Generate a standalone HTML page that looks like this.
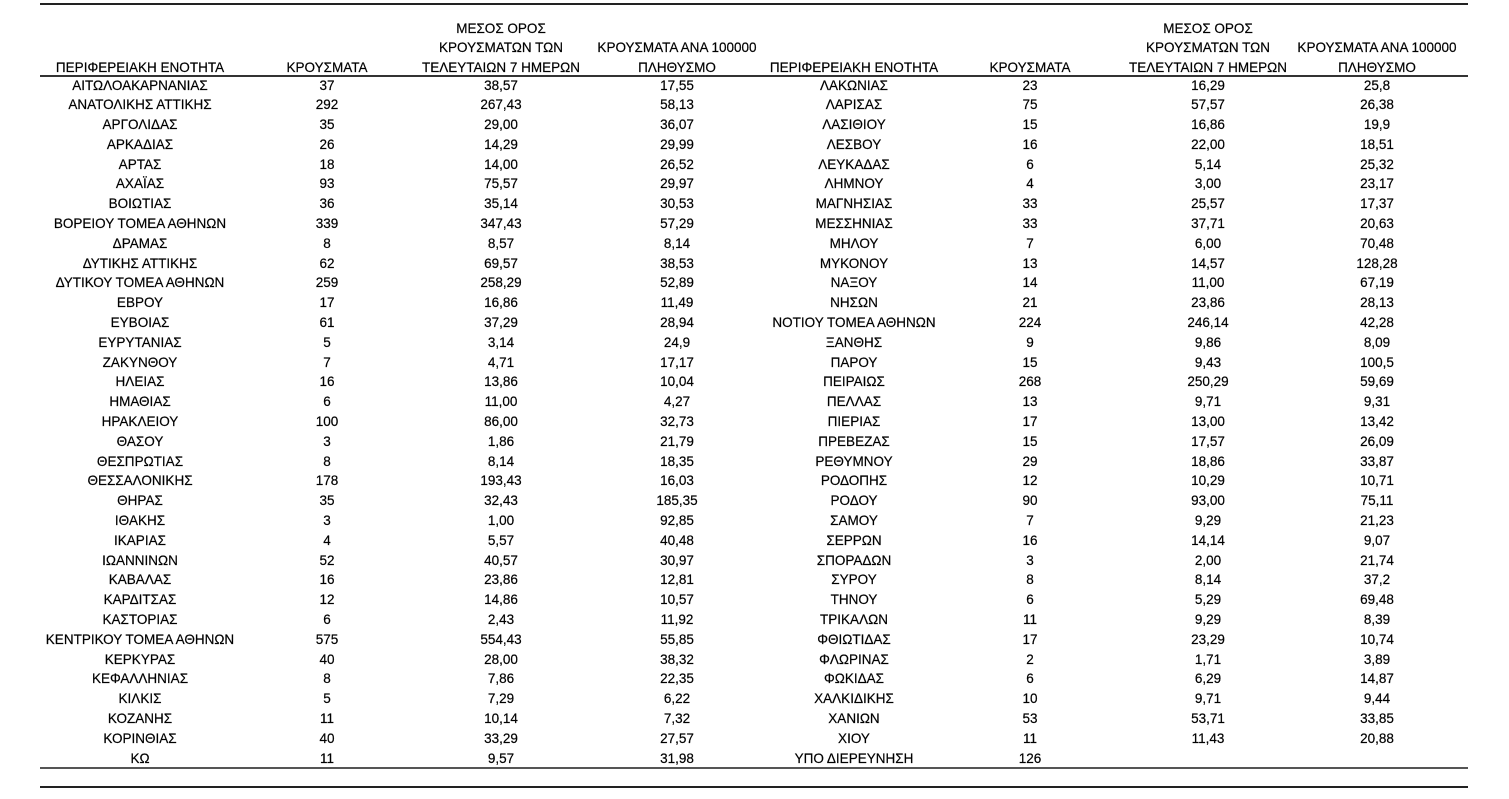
<!DOCTYPE html>
<html><head><meta charset="utf-8">
<style>
html,body{margin:0;padding:0;background:#fff;}
body{width:1509px;height:799px;position:relative;overflow:hidden;font-family:"Liberation Sans","Noto Sans CJK SC",sans-serif;font-size:14px;color:#000;-webkit-text-stroke:0.2px #000;}
.ln{position:absolute;left:40px;width:1428px;height:2px;}
.hr{position:absolute;left:0;width:1509px;height:20px;line-height:20px;}
.rows{position:absolute;top:75.5px;left:0;width:1509px;}
.r{position:relative;height:19.8px;line-height:19.8px;}
i{font-style:normal;position:absolute;top:0;text-align:center;white-space:nowrap;transform:scaleX(0.965);transform-origin:50% 50%;}
.a{left:40px;width:200px}
.b{left:277px;width:100px}
.c{left:416px;width:170px}
.d{left:592px;width:170px}
.e{left:754px;width:200px}
.f{left:980px;width:100px}
.g{left:1123px;width:170px}
.h{left:1292px;width:170px}
</style></head><body>
<div class="ln" style="top:3px;background:#222"></div>
<div class="ln" style="top:74.5px;background:#333"></div>
<div class="ln" style="top:766.5px;background:#555"></div>
<div class="ln" style="top:785.5px;background:#222"></div>

<div class="hr" style="top:17.5px"><i class="c">ΜΕΣΟΣ ΟΡΟΣ</i><i class="g">ΜΕΣΟΣ ΟΡΟΣ</i></div>
<div class="hr" style="top:37px"><i class="c">ΚΡΟΥΣΜΑΤΩΝ ΤΩΝ</i><i class="d">ΚΡΟΥΣΜΑΤΑ ΑΝΑ 100000</i><i class="g">ΚΡΟΥΣΜΑΤΩΝ ΤΩΝ</i><i class="h">ΚΡΟΥΣΜΑΤΑ ΑΝΑ 100000</i></div>
<div class="hr" style="top:56.5px"><i class="a">ΠΕΡΙΦΕΡΕΙΑΚΗ ΕΝΟΤΗΤΑ</i><i class="b">ΚΡΟΥΣΜΑΤΑ</i><i class="c">ΤΕΛΕΥΤΑΙΩΝ 7 ΗΜΕΡΩΝ</i><i class="d">ΠΛΗΘΥΣΜΟ</i><i class="e">ΠΕΡΙΦΕΡΕΙΑΚΗ ΕΝΟΤΗΤΑ</i><i class="f">ΚΡΟΥΣΜΑΤΑ</i><i class="g">ΤΕΛΕΥΤΑΙΩΝ 7 ΗΜΕΡΩΝ</i><i class="h">ΠΛΗΘΥΣΜΟ</i></div>

<div class="rows">
<div class="r"><i class="a">ΑΙΤΩΛΟΑΚΑΡΝΑΝΙΑΣ</i><i class="b">37</i><i class="c">38,57</i><i class="d">17,55</i><i class="e">ΛΑΚΩΝΙΑΣ</i><i class="f">23</i><i class="g">16,29</i><i class="h">25,8</i></div>
<div class="r"><i class="a">ΑΝΑΤΟΛΙΚΗΣ ΑΤΤΙΚΗΣ</i><i class="b">292</i><i class="c">267,43</i><i class="d">58,13</i><i class="e">ΛΑΡΙΣΑΣ</i><i class="f">75</i><i class="g">57,57</i><i class="h">26,38</i></div>
<div class="r"><i class="a">ΑΡΓΟΛΙΔΑΣ</i><i class="b">35</i><i class="c">29,00</i><i class="d">36,07</i><i class="e">ΛΑΣΙΘΙΟΥ</i><i class="f">15</i><i class="g">16,86</i><i class="h">19,9</i></div>
<div class="r"><i class="a">ΑΡΚΑΔΙΑΣ</i><i class="b">26</i><i class="c">14,29</i><i class="d">29,99</i><i class="e">ΛΕΣΒΟΥ</i><i class="f">16</i><i class="g">22,00</i><i class="h">18,51</i></div>
<div class="r"><i class="a">ΑΡΤΑΣ</i><i class="b">18</i><i class="c">14,00</i><i class="d">26,52</i><i class="e">ΛΕΥΚΑΔΑΣ</i><i class="f">6</i><i class="g">5,14</i><i class="h">25,32</i></div>
<div class="r"><i class="a">ΑΧΑΪΑΣ</i><i class="b">93</i><i class="c">75,57</i><i class="d">29,97</i><i class="e">ΛΗΜΝΟΥ</i><i class="f">4</i><i class="g">3,00</i><i class="h">23,17</i></div>
<div class="r"><i class="a">ΒΟΙΩΤΙΑΣ</i><i class="b">36</i><i class="c">35,14</i><i class="d">30,53</i><i class="e">ΜΑΓΝΗΣΙΑΣ</i><i class="f">33</i><i class="g">25,57</i><i class="h">17,37</i></div>
<div class="r"><i class="a">ΒΟΡΕΙΟΥ ΤΟΜΕΑ ΑΘΗΝΩΝ</i><i class="b">339</i><i class="c">347,43</i><i class="d">57,29</i><i class="e">ΜΕΣΣΗΝΙΑΣ</i><i class="f">33</i><i class="g">37,71</i><i class="h">20,63</i></div>
<div class="r"><i class="a">ΔΡΑΜΑΣ</i><i class="b">8</i><i class="c">8,57</i><i class="d">8,14</i><i class="e">ΜΗΛΟΥ</i><i class="f">7</i><i class="g">6,00</i><i class="h">70,48</i></div>
<div class="r"><i class="a">ΔΥΤΙΚΗΣ ΑΤΤΙΚΗΣ</i><i class="b">62</i><i class="c">69,57</i><i class="d">38,53</i><i class="e">ΜΥΚΟΝΟΥ</i><i class="f">13</i><i class="g">14,57</i><i class="h">128,28</i></div>
<div class="r"><i class="a">ΔΥΤΙΚΟΥ ΤΟΜΕΑ ΑΘΗΝΩΝ</i><i class="b">259</i><i class="c">258,29</i><i class="d">52,89</i><i class="e">ΝΑΞΟΥ</i><i class="f">14</i><i class="g">11,00</i><i class="h">67,19</i></div>
<div class="r"><i class="a">ΕΒΡΟΥ</i><i class="b">17</i><i class="c">16,86</i><i class="d">11,49</i><i class="e">ΝΗΣΩΝ</i><i class="f">21</i><i class="g">23,86</i><i class="h">28,13</i></div>
<div class="r"><i class="a">ΕΥΒΟΙΑΣ</i><i class="b">61</i><i class="c">37,29</i><i class="d">28,94</i><i class="e">ΝΟΤΙΟΥ ΤΟΜΕΑ ΑΘΗΝΩΝ</i><i class="f">224</i><i class="g">246,14</i><i class="h">42,28</i></div>
<div class="r"><i class="a">ΕΥΡΥΤΑΝΙΑΣ</i><i class="b">5</i><i class="c">3,14</i><i class="d">24,9</i><i class="e">ΞΑΝΘΗΣ</i><i class="f">9</i><i class="g">9,86</i><i class="h">8,09</i></div>
<div class="r"><i class="a">ΖΑΚΥΝΘΟΥ</i><i class="b">7</i><i class="c">4,71</i><i class="d">17,17</i><i class="e">ΠΑΡΟΥ</i><i class="f">15</i><i class="g">9,43</i><i class="h">100,5</i></div>
<div class="r"><i class="a">ΗΛΕΙΑΣ</i><i class="b">16</i><i class="c">13,86</i><i class="d">10,04</i><i class="e">ΠΕΙΡΑΙΩΣ</i><i class="f">268</i><i class="g">250,29</i><i class="h">59,69</i></div>
<div class="r"><i class="a">ΗΜΑΘΙΑΣ</i><i class="b">6</i><i class="c">11,00</i><i class="d">4,27</i><i class="e">ΠΕΛΛΑΣ</i><i class="f">13</i><i class="g">9,71</i><i class="h">9,31</i></div>
<div class="r"><i class="a">ΗΡΑΚΛΕΙΟΥ</i><i class="b">100</i><i class="c">86,00</i><i class="d">32,73</i><i class="e">ΠΙΕΡΙΑΣ</i><i class="f">17</i><i class="g">13,00</i><i class="h">13,42</i></div>
<div class="r"><i class="a">ΘΑΣΟΥ</i><i class="b">3</i><i class="c">1,86</i><i class="d">21,79</i><i class="e">ΠΡΕΒΕΖΑΣ</i><i class="f">15</i><i class="g">17,57</i><i class="h">26,09</i></div>
<div class="r"><i class="a">ΘΕΣΠΡΩΤΙΑΣ</i><i class="b">8</i><i class="c">8,14</i><i class="d">18,35</i><i class="e">ΡΕΘΥΜΝΟΥ</i><i class="f">29</i><i class="g">18,86</i><i class="h">33,87</i></div>
<div class="r"><i class="a">ΘΕΣΣΑΛΟΝΙΚΗΣ</i><i class="b">178</i><i class="c">193,43</i><i class="d">16,03</i><i class="e">ΡΟΔΟΠΗΣ</i><i class="f">12</i><i class="g">10,29</i><i class="h">10,71</i></div>
<div class="r"><i class="a">ΘΗΡΑΣ</i><i class="b">35</i><i class="c">32,43</i><i class="d">185,35</i><i class="e">ΡΟΔΟΥ</i><i class="f">90</i><i class="g">93,00</i><i class="h">75,11</i></div>
<div class="r"><i class="a">ΙΘΑΚΗΣ</i><i class="b">3</i><i class="c">1,00</i><i class="d">92,85</i><i class="e">ΣΑΜΟΥ</i><i class="f">7</i><i class="g">9,29</i><i class="h">21,23</i></div>
<div class="r"><i class="a">ΙΚΑΡΙΑΣ</i><i class="b">4</i><i class="c">5,57</i><i class="d">40,48</i><i class="e">ΣΕΡΡΩΝ</i><i class="f">16</i><i class="g">14,14</i><i class="h">9,07</i></div>
<div class="r"><i class="a">ΙΩΑΝΝΙΝΩΝ</i><i class="b">52</i><i class="c">40,57</i><i class="d">30,97</i><i class="e">ΣΠΟΡΑΔΩΝ</i><i class="f">3</i><i class="g">2,00</i><i class="h">21,74</i></div>
<div class="r"><i class="a">ΚΑΒΑΛΑΣ</i><i class="b">16</i><i class="c">23,86</i><i class="d">12,81</i><i class="e">ΣΥΡΟΥ</i><i class="f">8</i><i class="g">8,14</i><i class="h">37,2</i></div>
<div class="r"><i class="a">ΚΑΡΔΙΤΣΑΣ</i><i class="b">12</i><i class="c">14,86</i><i class="d">10,57</i><i class="e">ΤΗΝΟΥ</i><i class="f">6</i><i class="g">5,29</i><i class="h">69,48</i></div>
<div class="r"><i class="a">ΚΑΣΤΟΡΙΑΣ</i><i class="b">6</i><i class="c">2,43</i><i class="d">11,92</i><i class="e">ΤΡΙΚΑΛΩΝ</i><i class="f">11</i><i class="g">9,29</i><i class="h">8,39</i></div>
<div class="r"><i class="a">ΚΕΝΤΡΙΚΟΥ ΤΟΜΕΑ ΑΘΗΝΩΝ</i><i class="b">575</i><i class="c">554,43</i><i class="d">55,85</i><i class="e">ΦΘΙΩΤΙΔΑΣ</i><i class="f">17</i><i class="g">23,29</i><i class="h">10,74</i></div>
<div class="r"><i class="a">ΚΕΡΚΥΡΑΣ</i><i class="b">40</i><i class="c">28,00</i><i class="d">38,32</i><i class="e">ΦΛΩΡΙΝΑΣ</i><i class="f">2</i><i class="g">1,71</i><i class="h">3,89</i></div>
<div class="r"><i class="a">ΚΕΦΑΛΛΗΝΙΑΣ</i><i class="b">8</i><i class="c">7,86</i><i class="d">22,35</i><i class="e">ΦΩΚΙΔΑΣ</i><i class="f">6</i><i class="g">6,29</i><i class="h">14,87</i></div>
<div class="r"><i class="a">ΚΙΛΚΙΣ</i><i class="b">5</i><i class="c">7,29</i><i class="d">6,22</i><i class="e">ΧΑΛΚΙΔΙΚΗΣ</i><i class="f">10</i><i class="g">9,71</i><i class="h">9,44</i></div>
<div class="r"><i class="a">ΚΟΖΑΝΗΣ</i><i class="b">11</i><i class="c">10,14</i><i class="d">7,32</i><i class="e">ΧΑΝΙΩΝ</i><i class="f">53</i><i class="g">53,71</i><i class="h">33,85</i></div>
<div class="r"><i class="a">ΚΟΡΙΝΘΙΑΣ</i><i class="b">40</i><i class="c">33,29</i><i class="d">27,57</i><i class="e">ΧΙΟΥ</i><i class="f">11</i><i class="g">11,43</i><i class="h">20,88</i></div>
<div class="r"><i class="a">ΚΩ</i><i class="b">11</i><i class="c">9,57</i><i class="d">31,98</i><i class="e">ΥΠΟ ΔΙΕΡΕΥΝΗΣΗ</i><i class="f">126</i></div>
</div>
</body></html>
